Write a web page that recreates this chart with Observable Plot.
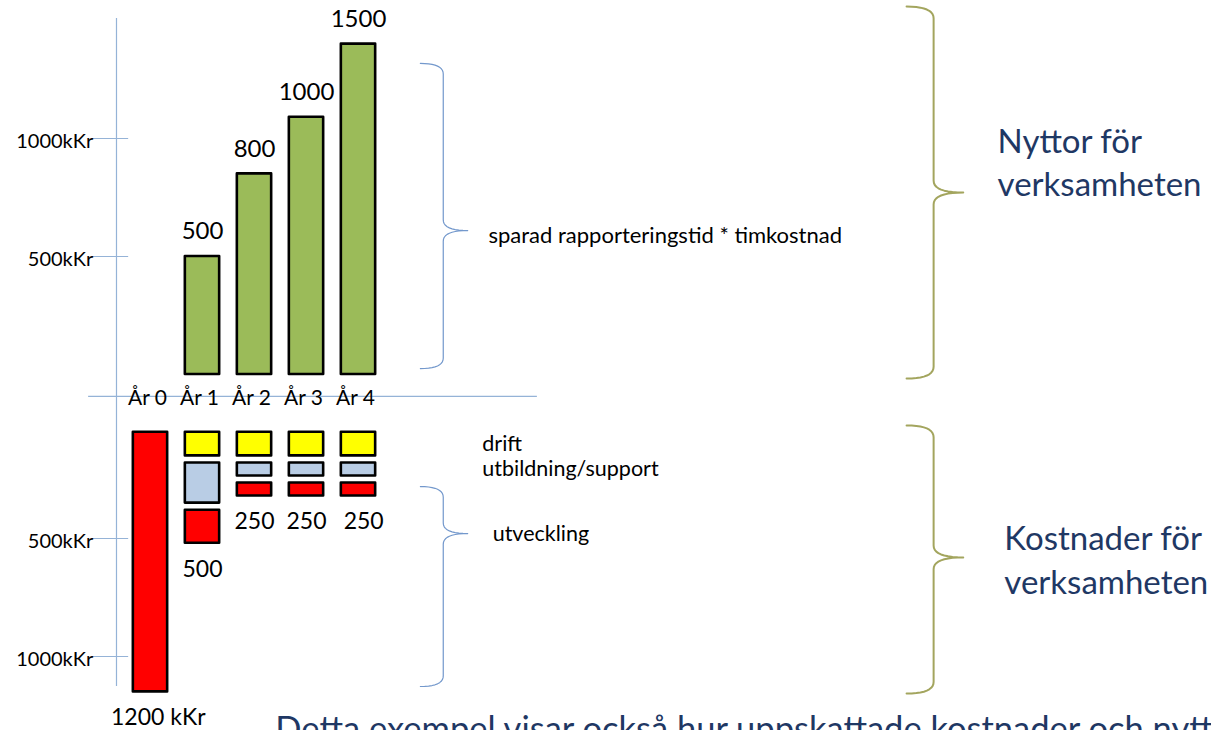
<!DOCTYPE html>
<html>
<head>
<meta charset="utf-8">
<script src="https://cdn.jsdelivr.net/npm/d3@7"></script>
<script src="https://cdn.jsdelivr.net/npm/@observablehq/plot@0.6"></script>
<style>
  html, body { margin: 0; padding: 0; background: #fff; overflow: hidden; }
  #chart svg { display: block; }
</style>
</head>
<body>
<div id="chart"></div>
<script>
// ---------- data (kKr, as drawn on the chart's axis) ----------
const years = ["År 0", "År 1", "År 2", "År 3", "År 4"];
const benefitLabels = ["", "500", "800", "1000", "1500"];
const benefitDrawn = [0, 500, 850, 1090, 1400];

const costCategories = ["drift", "utbildning/support", "utveckling"];
const driftCost = [0, 100, 100, 100, 100];
const utbildningCost = [0, 170, 55, 55, 55];
const utvecklingCost = [1100, 140, 55, 55, 55];
const costTotalLabels = ["1200 kKr", "500", "250", "250", "250"];

const benefitTickValues = [500, 1000];
const benefitTickLabels = ["500kKr", "1000kKr"];
const costTickValues = [500, 1000];
const costTickLabels = ["500kKr", "1000kKr"];

// ---------- layout ----------
const W = 1211, H = 730;
const pxPerYear = 52, year0px = 150;
const pxPerKkr = 0.236, zeroPx = 374;
const xDomain = [-year0px / pxPerYear, (W - year0px) / pxPerYear];
const yDomain = [(zeroPx - H) / pxPerKkr, zeroPx / pxPerKkr];
const axisY = -93;            // horizontal axis line (kKr units)
const costBarTop = -245;      // where the cost boxes start
const costAxisZero = -195;    // origin of the cost tick marks
const gap = 30;               // gap between cost boxes
const halfBar = 0.33;
const labelShift = [0.15, 0, 0, 0, 0.1]; // small horizontal offsets of the total labels

const colors = {"drift": "#ffff00", "utbildning/support": "#b9cde5", "utveckling": "#ff0000"};
const axisColor = "#95b3d7";
const blueBrace = "#7398cc";
const greenBrace = "#a3a55e";
const navy = "#1f3864";

const benefits = years.map((y, i) => ({i, year: y, value: benefitDrawn[i], label: benefitLabels[i]}))
  .filter(d => d.value > 0);

const costRows = [];
const costBottoms = [];
years.forEach((y, i) => {
  let top = costBarTop;
  const vals = [driftCost[i], utbildningCost[i], utvecklingCost[i]];
  let bottom = top;
  vals.forEach((v, k) => {
    if (v > 0) {
      costRows.push({i, cat: costCategories[k], y1: top, y2: top - v});
      bottom = top - v;
      top = bottom - gap;
    }
  });
  costBottoms.push({i, x: i + labelShift[i], y: bottom, label: costTotalLabels[i]});
});

const ticks = [
  ...benefitTickValues.map((v, k) => ({y: v, label: benefitTickLabels[k]})),
  ...costTickValues.map((v, k) => ({y: costAxisZero - v, label: costTickLabels[k]}))
];

function brace(x0, x1, xTip, yTop, yTip, yBot, ry, id) {
  const pts = [];
  const quad = (p0, c, p1) => {
    for (let t = 0; t <= 1.0001; t += 0.1) {
      const a = (1 - t) * (1 - t), b = 2 * (1 - t) * t, d = t * t;
      pts.push({id, x: a * p0[0] + b * c[0] + d * p1[0], y: a * p0[1] + b * c[1] + d * p1[1]});
    }
  };
  quad([x0, yTop], [x1, yTop], [x1, yTop - ry]);
  quad([x1, yTip + ry], [x1, yTip], [xTip, yTip]);
  quad([xTip, yTip], [x1, yTip], [x1, yTip - ry]);
  quad([x1, yBot + ry], [x1, yBot], [x0, yBot]);
  return pts;
}
const blueBraces = [
  ...brace(5.19, 5.63, 6.10, 1318, 610, 25, 45, "b1"),
  ...brace(5.19, 5.63, 6.10, -475, -674, -1322, 45, "b2")
];
const greenBraces = [
  ...brace(14.54, 15.06, 15.63, 1559, 771, -17, 50, "g1"),
  ...brace(14.54, 15.06, 15.63, -216, -775, -1352, 50, "g2")
];

const legendLabels = [
  {x: 6.38, y: -293, text: "drift"},
  {x: 6.38, y: -402, text: "utbildning/support"},
  {x: 6.58, y: -678, text: "utveckling"}
];

const font = "Lato, 'Open Sans', sans-serif";

const chart = Plot.plot({
  width: W, height: H,
  margin: 0,
  x: {domain: xDomain, axis: null},
  y: {domain: yDomain, axis: null},
  style: {fontFamily: font, background: "#fff", color: "#000"},
  marks: [
    // axes
    Plot.ruleX([-0.654], {y1: 1508, y2: -1322, stroke: axisColor, strokeWidth: 1.2}),
    Plot.ruleY([axisY], {x1: -1.19, x2: 7.44, stroke: axisColor, strokeWidth: 1.2}),
    Plot.ruleY(ticks, {y: "y", x1: -1.12, x2: -0.42, stroke: axisColor, strokeWidth: 1.2}),
    Plot.text(ticks, {x: -1.1, y: "y", text: "label", textAnchor: "end", dy: 3, fontSize: 20, fill: "#000"}),
    // benefit bars
    Plot.rect(benefits, {x1: d => d.i - halfBar, x2: d => d.i + halfBar, y1: 0, y2: "value",
      fill: "#9bbb59", stroke: "#000", strokeWidth: 2.6, strokeLinejoin: "round"}),
    Plot.text(benefits, {x: "i", y: "value", text: "label", dy: -25, fontSize: 24, fill: "#000"}),
    // year labels
    Plot.text(years.map((y, i) => ({i, y})), {x: "i", y: axisY, text: "y", dx: -3, dy: 2, fontSize: 21, fill: "#000"}),
    // cost boxes
    Plot.rect(costRows, {x1: d => d.i - halfBar, x2: d => d.i + halfBar, y1: "y1", y2: "y2",
      fill: d => colors[d.cat], stroke: "#000", strokeWidth: 2.6, strokeLinejoin: "round"}),
    Plot.text(costBottoms, {x: "x", y: "y", text: "label", dy: 26, fontSize: 23, fill: "#000"}),
    // braces
    Plot.line(blueBraces, {x: "x", y: "y", z: "id", stroke: blueBrace, strokeWidth: 1.2}),
    Plot.line(greenBraces, {x: "x", y: "y", z: "id", stroke: greenBrace, strokeWidth: 2}),
    // annotations
    Plot.text(["sparad rapporteringstid * timkostnad"], {x: 6.5, y: 589, text: d => d, textAnchor: "start", fontSize: 22, fill: "#000"}),
    Plot.text(legendLabels, {x: "x", y: "y", text: "text", textAnchor: "start", fontSize: 21.5, fill: "#000"}),
    Plot.text(["Nyttor för\nverksamheten"], {x: 16.29, y: 907, text: d => d, textAnchor: "start", lineHeight: 1.33, fontSize: 33, fill: navy}),
    Plot.text(["Kostnader för\nverksamheten"], {x: 16.42, y: -776, text: d => d, textAnchor: "start", lineHeight: 1.33, fontSize: 33, fill: navy}),
    Plot.text(["Detta exempel visar också hur uppskattade kostnader och nyttor"], {x: 2.40, y: -1555, text: d => d, textAnchor: "start", lineAnchor: "bottom", fontSize: 34.5, fill: navy})
  ]
});
document.getElementById("chart").appendChild(chart);
</script>
</body>
</html>
